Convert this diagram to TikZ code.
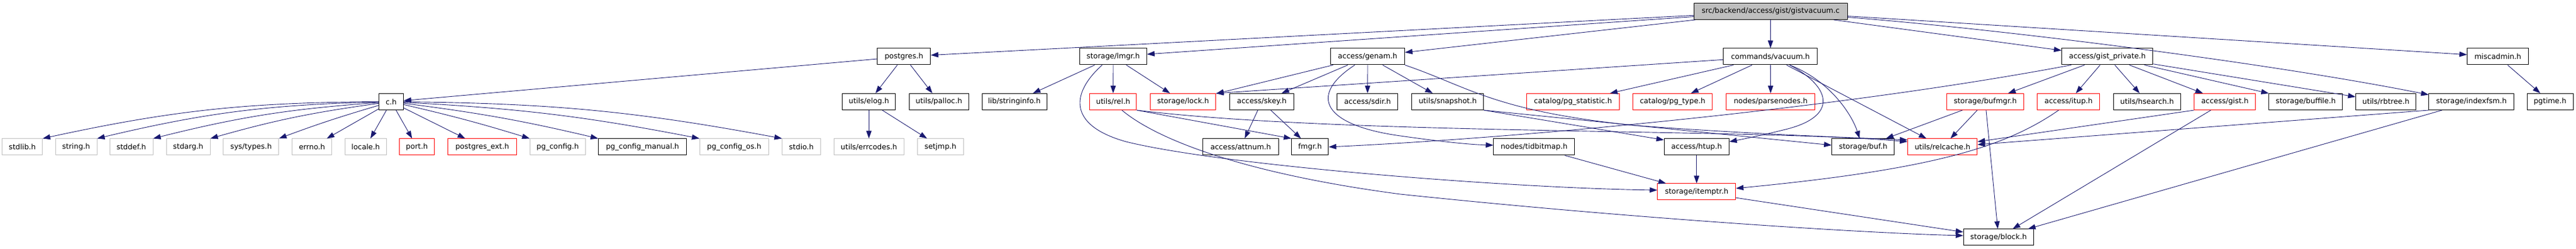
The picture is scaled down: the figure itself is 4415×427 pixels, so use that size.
\documentclass[tikz,border=0pt]{standalone}
\usepackage{fontspec}
\setmainfont{DejaVu Sans}
\usetikzlibrary{arrows.meta}
\definecolor{edgec}{HTML}{191970}
\definecolor{grayb}{HTML}{BFBFBF}
\begin{document}
\begin{tikzpicture}[x=1pt,y=1pt,
 nb/.style={draw=black, line width=1pt, fill=white, minimum height=28pt, inner xsep=1pt, inner ysep=0pt, font=\fontsize{12.5}{15}\selectfont, text=black},
 gb/.style={nb, draw=grayb},
 rb/.style={nb, draw=red},
 mb/.style={nb, fill=grayb},
 e/.style={draw=edgec, line width=0.9pt, -{Triangle[length=13pt,width=9pt]}}]
\useasboundingbox (0,0) rectangle (4415,427);
% row 0
\node[mb,minimum width=262.7pt] (gv) at (3034.7,407.5) {src/backend/access/gist/gistvacuum.c};
% row 1
\node[nb,minimum width=91pt] (postgres) at (1549.2,330) {postgres.h};
\node[nb,minimum width=114.6pt] (lmgr) at (1908,330) {storage/lmgr.h};
\node[nb,minimum width=126.6pt] (genam) at (2344,330) {access/genam.h};
\node[nb,minimum width=161.3pt] (vacuum) at (3034.3,330) {commands/vacuum.h};
\node[nb,minimum width=156.3pt] (gp) at (3611.8,330) {access/gist\_private.h};
\node[nb,minimum width=104.6pt] (misc) at (4281,330) {miscadmin.h};
% row 2
\node[nb,minimum width=41.6pt] (ch) at (670.5,252.5) {c.h};
\node[nb,minimum width=91pt] (elog) at (1489.2,252.5) {utils/elog.h};
\node[nb,minimum width=101.7pt] (palloc) at (1609.2,252.5) {utils/palloc.h};
\node[nb,minimum width=111pt] (stringinfo) at (1738.5,252.5) {lib/stringinfo.h};
\node[rb,minimum width=80.3pt] (rel) at (1907.8,252.5) {utils/rel.h};
\node[rb,minimum width=112pt] (lock) at (2027.7,252.5) {storage/lock.h};
\node[nb,minimum width=109.6pt] (skey) at (2162.5,252.5) {access/skey.h};
\node[nb,minimum width=104.3pt] (sdir) at (2343.8,252.5) {access/sdir.h};
\node[nb,minimum width=123pt] (snapshot) at (2481.2,252.5) {utils/snapshot.h};
\node[rb,minimum width=158.6pt] (pgstat) at (2696,252.5) {catalog/pg\_statistic.h};
\node[rb,minimum width=136pt] (pgtype) at (2866.7,252.5) {catalog/pg\_type.h};
\node[rb,minimum width=152pt] (parsenodes) at (3034.7,252.5) {nodes/parsenodes.h};
\node[rb,minimum width=132.4pt] (bufmgr) at (3402.5,252.5) {storage/bufmgr.h};
\node[rb,minimum width=107.3pt] (itup) at (3545.3,252.5) {access/itup.h};
\node[nb,minimum width=115pt] (hsearch) at (3679.8,252.5) {utils/hsearch.h};
\node[rb,minimum width=105.3pt] (gist) at (3813.3,252.5) {access/gist.h};
\node[nb,minimum width=125.7pt] (buffile) at (3951.8,252.5) {storage/buffile.h};
\node[nb,minimum width=103pt] (rbtree) at (4089.2,252.5) {utils/rbtree.h};
\node[nb,minimum width=145.7pt] (indexfsm) at (4235.8,252.5) {storage/indexfsm.h};
\node[nb,minimum width=79pt] (pgtime) at (4370.5,252.5) {pgtime.h};
% row 3
\node[gb,minimum width=68.7pt] (stdlib) at (38.3,175) {stdlib.h};
\node[gb,minimum width=71pt] (stringh) at (130.5,175) {string.h};
\node[gb,minimum width=74pt] (stddef) at (225,175) {stddef.h};
\node[gb,minimum width=75pt] (stdarg) at (322.5,175) {stdarg.h};
\node[gb,minimum width=94.7pt] (systypes) at (430.3,175) {sys/types.h};
\node[gb,minimum width=68pt] (errno) at (534.7,175) {errno.h};
\node[gb,minimum width=71.3pt] (locale) at (626.7,175) {locale.h};
\node[rb,minimum width=60.4pt] (port) at (714.5,175) {port.h};
\node[rb,minimum width=117.6pt] (pgext) at (826.5,175) {postgres\_ext.h};
\node[gb,minimum width=95pt] (pgconfig) at (955.8,175) {pg\_config.h};
\node[nb,minimum width=151pt] (pgmanual) at (1101.2,175) {pg\_config\_manual.h};
\node[gb,minimum width=118pt] (pgos) at (1258.3,175) {pg\_config\_os.h};
\node[gb,minimum width=65.6pt] (stdio) at (1373.5,175) {stdio.h};
\node[gb,minimum width=120.3pt] (errcodes) at (1489.2,175) {utils/errcodes.h};
\node[gb,minimum width=79pt] (setjmp) at (1611.8,175) {setjmp.h};
\node[nb,minimum width=129.6pt] (attnum) at (2126.5,175) {access/attnum.h};
\node[nb,minimum width=63pt] (fmgr) at (2245.2,175) {fmgr.h};
\node[nb,minimum width=138.7pt] (tidbitmap) at (2629.3,175) {nodes/tidbitmap.h};
\node[nb,minimum width=111pt] (htup) at (2907.8,175) {access/htup.h};
\node[nb,minimum width=107pt] (buf) at (3193.2,175) {storage/buf.h};
\node[rb,minimum width=119pt] (relcache) at (3329.2,175) {utils/relcache.h};
% row 4, 5
\node[rb,minimum width=133.7pt] (itemptr) at (2907.8,98) {storage/itemptr.h};
\node[nb,minimum width=120pt] (block) at (3425.3,20) {storage/block.h};
% edges from gistvacuum.c
\draw[e] (gv) -- (postgres);
\draw[e] (gv) -- (lmgr);
\draw[e] (gv) -- (genam);
\draw[e] (gv) -- (vacuum);
\draw[e] (gv) -- (gp);
\draw[e] (gv) -- (misc);
\draw[e] ([yshift=-10pt]gv.east) .. controls (3450,375) and (3900,317) .. ([yshift=12pt]indexfsm.west);
% postgres.h
\draw[e] (postgres) -- (ch);
\draw[e] (postgres) -- (elog);
\draw[e] (postgres) -- (palloc);
% c.h
\draw[e] (ch) to[bend right=6] (stdlib.north east);
\draw[e] (ch) to[bend right=6] (stringh.north east);
\draw[e] (ch) to[bend right=5] (stddef.north east);
\draw[e] (ch) to[bend right=4] (stdarg.north east);
\draw[e] (ch) to[bend right=2] (systypes.north east);
\draw[e] (ch) -- (errno);
\draw[e] (ch) -- (locale);
\draw[e] (ch) -- (port);
\draw[e] (ch) -- (pgext);
\draw[e] (ch) to[bend left=2] (pgconfig.north west);
\draw[e] (ch) to[bend left=3] (pgmanual.north west);
\draw[e] (ch) to[bend left=4] (pgos.north west);
\draw[e] (ch) to[bend left=5] (stdio.north west);
% elog
\draw[e] (elog) -- (errcodes);
\draw[e] (elog) -- (setjmp);
% lmgr
\draw[e] (lmgr) -- (stringinfo);
\draw[e] (lmgr) -- (rel);
\draw[e] (lmgr) -- (lock);
\draw[e] ([xshift=-19pt]lmgr.south) .. controls (1835,267) and (1830,212) .. (1930,184) .. controls (2100,142) and (2600,104) .. ([yshift=3pt]itemptr.west);
% rel
\draw[e] (rel.south east) -- (fmgr.north west);
\draw[e] ([xshift=15pt]rel.south) .. controls (1990,182) and (2150,127) .. (2400,94) .. controls (2800,52) and (3200,27) .. ([yshift=3pt]block.west);
\draw[e] (rel.south east) .. controls (2300,195) and (3000,207) .. ([yshift=9pt]relcache.west);
% genam
\draw[e] (genam) -- (lock);
\draw[e] (genam) -- (skey);
\draw[e] (genam) -- (sdir);
\draw[e] (genam) -- (snapshot);
\draw[e] ([xshift=-22pt]genam.south) .. controls (2240,262) and (2270,212) .. (2400,194) .. controls (2470,184) and (2520,179) .. ([yshift=3pt]tidbitmap.west);
\draw[e] (genam.south east) .. controls (2520,277) and (2560,237) .. (2800,212) .. controls (3000,197) and (3150,192) .. ([yshift=12pt]relcache.west);
% skey
\draw[e] (skey) -- (attnum);
\draw[e] (skey) -- (fmgr);
% snapshot
\draw[e] (snapshot.south east) -- ([yshift=12pt]htup.west);
\draw[e] (snapshot.south east) -- ([yshift=3pt]buf.west);
% vacuum
\draw[e] (vacuum) -- (lock.north east);
\draw[e] (vacuum) -- (pgstat);
\draw[e] (vacuum) -- (pgtype);
\draw[e] (vacuum) -- (parsenodes);
\draw[e] ([xshift=33pt]vacuum.south) .. controls (3140,277) and (3150,227) .. (3060,205) .. controls (3020,195) and (2990,189) .. ([yshift=9pt]htup.east);
\draw[e] ([xshift=33pt]vacuum.south) .. controls (3140,287) and (3175,227) .. ([xshift=-6pt]buf.north);
\draw[e] (vacuum) -- (relcache);
% gist_private
\draw[e] (gp) -- (bufmgr);
\draw[e] (gp) -- (itup);
\draw[e] (gp) -- (hsearch);
\draw[e] (gp) -- (gist);
\draw[e] (gp) -- (buffile);
\draw[e] (gp) -- (rbtree);
\draw[e] ([xshift=-62pt]gp.south) .. controls (3150,240) and (2600,190) .. (fmgr.east);
% bufmgr
\draw[e] (bufmgr) -- (buf);
\draw[e] (bufmgr) -- (relcache);
\draw[e] (bufmgr) -- (block);
% itup
\draw[e] ([xshift=-17pt]itup.south) .. controls (3440,177) and (3320,137) .. ([yshift=6pt]itemptr.east);
% gist
\draw[e] (gist.south west) -- ([yshift=9pt]relcache.east);
\draw[e] (gist) -- (block);
% indexfsm
\draw[e] (indexfsm.south west) -- ([yshift=4pt]relcache.east);
\draw[e] (indexfsm) -- (block);
% miscadmin
\draw[e] (misc) -- (pgtime);
% lower
\draw[e] (htup) -- (itemptr);
\draw[e] (tidbitmap) -- (itemptr);
\draw[e] (itemptr) -- (block);
\end{tikzpicture}
\end{document}
